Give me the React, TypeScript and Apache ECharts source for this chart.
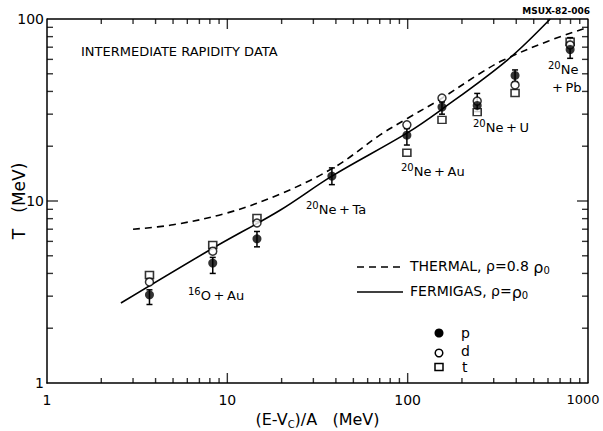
import React, { useEffect, useRef } from "react";
import * as echarts from "echarts";

// ---- data ----
const energies = [3.7, 8.3, 14.6, 38, 99, 155, 243, 394, 796];
const protonT = [3.05, 4.56, 6.2, 13.7, 23.0, 32.8, 33.5, 49, 68];
const protonLow = [2.7, 4.0, 5.6, 12.3, 20.3, 30, 31, 45, 60.8];
const protonHigh = [3.25, 4.9, 6.8, 15.2, 25, 35, 39, 52.5, 79];
const deuteronT = [3.59, 5.3, 7.57, null, 26.2, 36.8, 35.4, 43.4, 72];
const tritonT = [3.92, 5.73, 8.07, null, 18.4, 27.9, 30.8, 39.2, 75];

const thermalE = [3, 5, 10, 20, 40, 70, 100, 150, 250, 340, 600, 1000];
const thermalT = [7.0, 7.4, 8.6, 11.0, 15.5, 23, 28.5, 36, 50, 59.5, 75.5, 90];
const fermiE = [2.57, 8.3, 19.6, 38, 99, 152, 357, 617];
const fermiT = [2.75, 5.5, 8.9, 13.7, 23.6, 31.5, 59.5, 100];

const xRange = [1, 1000];
const yRange = [1, 100];
const xMajorTicks = [10, 100];
const yMajorTicks = [10];
const xMinorTicks = [2, 3, 4, 5, 6, 7, 8, 9, 20, 30, 40, 50, 60, 70, 80, 90, 200, 300, 400, 500, 600, 700, 800, 900];
const yMinorTicks = [2, 3, 4, 5, 6, 7, 8, 9, 20, 30, 40, 50, 60, 70, 80, 90];

const FONT = "DejaVu Sans";
const INK = "#000";

const GRID = { left: 47, right: 15, top: 19, bottom: 48 };
const W = 603;
const H = 431;

export default function App() {
  const ref = useRef<HTMLDivElement>(null);

  useEffect(() => {
    const chart = echarts.init(ref.current!, null, { renderer: "svg" });

    const supRich = {
      s: { fontSize: 10, fontFamily: FONT, fill: INK, lineHeight: 10, padding: [0, 0, 8, 0], verticalAlign: "top" },
      n: { fontSize: 13, fontFamily: FONT, fill: INK, lineHeight: 16, verticalAlign: "bottom" },
    };
    const subRich = {
      n: { fontSize: 14, fontFamily: FONT, fill: INK, lineHeight: 16, verticalAlign: "top" },
      r: { fontSize: 16, fontFamily: FONT, fill: INK, lineHeight: 16, verticalAlign: "top" },
      b: { fontSize: 10, fontFamily: FONT, fill: INK, lineHeight: 10, padding: [8, 0, 0, 0], verticalAlign: "bottom" },
    };

    const annot = (text: string, x: number, y: number) => ({
      type: "text",
      x,
      y,
      style: { text, rich: supRich, verticalAlign: "middle", align: "left" },
    });

    const fmt = (v: number) => {
      const r = Math.round(v);
      return r === 1000 ? "{e|1000}" : String(r);
    };

    const TW = 1.4; // tick stroke width
    const xTick = (v: number, len: number) => [
      { value: [v, yRange[0]], symbolSize: [TW, len], symbolOffset: [0, -len / 2] },
      { value: [v, yRange[1]], symbolSize: [TW, len], symbolOffset: [0, len / 2] },
    ];
    const yTick = (v: number, len: number) => [
      { value: [xRange[0], v], symbolSize: [len, TW], symbolOffset: [len / 2, 0] },
      { value: [xRange[1], v], symbolSize: [len, TW], symbolOffset: [-len / 2, 0] },
    ];
    const tickData = [
      ...xMajorTicks.flatMap((v) => xTick(v, 10)),
      ...xMinorTicks.flatMap((v) => xTick(v, 5)),
      ...yMajorTicks.flatMap((v) => yTick(v, 11)),
      ...yMinorTicks.flatMap((v) => yTick(v, 6)),
    ];

    const option: any = {
      animation: false,
      backgroundColor: "#fff",
      grid: { ...GRID, containLabel: false, outerBoundsMode: "none" },
      xAxis: {
        type: "log",
        logBase: 10,
        min: xRange[0],
        max: xRange[1],
        position: "bottom",
        axisLine: { show: true, lineStyle: { color: INK, width: 1.5 } },
        axisTick: { show: false },
        splitLine: { show: false },
        axisLabel: {
          color: INK,
          fontFamily: FONT,
          fontSize: 14,
          margin: 10,
          formatter: fmt,
          showMinLabel: true,
          showMaxLabel: true,
          rich: { e: { fontSize: 13, fontFamily: FONT, color: INK, padding: [0, 10, 0, 0] } },
        },
        name: "{n|(E-V}{c|C}{n|)/A   (MeV)}",
        nameLocation: "middle",
        nameGap: 28,
        nameMoveOverlap: false,
        nameTextStyle: {
          rich: {
            n: { fontSize: 16, fontFamily: FONT, color: INK, lineHeight: 18, verticalAlign: "top" },
            c: { fontSize: 10, fontFamily: FONT, color: INK, lineHeight: 10, padding: [9, 0, 0, 0], verticalAlign: "bottom" },
          },
        },
      },
      yAxis: {
        type: "log",
        logBase: 10,
        min: yRange[0],
        max: yRange[1],
        position: "left",
        axisLine: { show: true, lineStyle: { color: INK, width: 1.5 } },
        axisTick: { show: false },
        splitLine: { show: false },
        axisLabel: { color: INK, fontFamily: FONT, fontSize: 14, margin: 3, formatter: fmt, showMinLabel: true, showMaxLabel: true },
        name: "T   (MeV)",
        nameLocation: "middle",
        nameGap: 20,
        nameMoveOverlap: false,
        nameTextStyle: { color: INK, fontFamily: FONT, fontSize: 17 },
      },
      series: [
        {
          // top and right edges of the frame
          type: "line",
          name: "frame",
          data: [
            [xRange[0], yRange[1]],
            [xRange[1], yRange[1]],
            [xRange[1], yRange[0]],
          ],
          showSymbol: false,
          clip: false,
          silent: true,
          lineStyle: { color: INK, width: 1.5 },
          z: 7,
        },
        {
          type: "scatter",
          name: "ticks",
          symbol: "rect",
          clip: false,
          silent: true,
          data: tickData,
          itemStyle: { color: INK },
          z: 7,
        },
        {
          type: "line",
          name: "THERMAL",
          data: thermalE.map((e, i) => [e, thermalT[i]]),
          showSymbol: false,
          smooth: 0.35,
          lineStyle: { color: INK, width: 1.6, type: [7, 5] },
          z: 2,
        },
        {
          type: "line",
          name: "FERMIGAS",
          data: fermiE.map((e, i) => [e, fermiT[i]]),
          showSymbol: false,
          smooth: 0.35,
          lineStyle: { color: INK, width: 1.6 },
          z: 2,
        },
        {
          type: "custom",
          name: "errors",
          silent: true,
          data: energies.map((e, i) => [e, protonLow[i], protonHigh[i]]),
          renderItem: (_p: any, api: any) => {
            const x = api.value(0);
            const lo = api.coord([x, api.value(1)]);
            const hi = api.coord([x, api.value(2)]);
            const st = { stroke: INK, lineWidth: 1.5 };
            const w = 3;
            return {
              type: "group",
              children: [
                { type: "line", shape: { x1: lo[0], y1: lo[1], x2: hi[0], y2: hi[1] }, style: st },
                { type: "line", shape: { x1: lo[0] - w, y1: lo[1], x2: lo[0] + w, y2: lo[1] }, style: st },
                { type: "line", shape: { x1: hi[0] - w, y1: hi[1], x2: hi[0] + w, y2: hi[1] }, style: st },
              ],
            };
          },
          z: 3,
        },
        {
          type: "scatter",
          name: "t",
          symbol: "rect",
          symbolSize: [8, 7],
          data: energies.map((e, i) => [e, tritonT[i]]).filter((d) => d[1] != null),
          itemStyle: { color: "#fff", borderColor: INK, borderWidth: 1.5 },
          z: 4,
        },
        {
          type: "scatter",
          name: "d",
          symbol: "circle",
          symbolSize: 8,
          data: energies.map((e, i) => [e, deuteronT[i]]).filter((d) => d[1] != null),
          itemStyle: { color: "#fff", borderColor: INK, borderWidth: 1.5 },
          z: 5,
        },
        {
          type: "scatter",
          name: "p",
          symbol: "circle",
          symbolSize: 9,
          data: energies.map((e, i) => [e, protonT[i]]),
          itemStyle: { color: INK },
          z: 6,
        },
      ],
      graphic: [
        {
          type: "text",
          x: 81,
          y: 51,
          style: { text: "INTERMEDIATE RAPIDITY DATA", fontFamily: FONT, fontSize: 13, fill: INK, verticalAlign: "middle" },
        },
        {
          type: "text",
          x: 590,
          y: 11,
          style: { text: "MSUX-82-006", fontFamily: FONT, fontSize: 9, fontWeight: "bold", fill: INK, align: "right", verticalAlign: "middle" },
        },
        annot("{s|16}{n|O\u2009+\u2009Au}", 188, 294),
        annot("{s|20}{n|Ne\u2009+\u2009Ta}", 306, 208),
        annot("{s|20}{n|Ne\u2009+\u2009Au}", 401, 170),
        annot("{s|20}{n|Ne\u2009+\u2009U}", 473, 126),
        annot("{s|20}{n|Ne}", 548, 68),
        {
          type: "text",
          x: 552,
          y: 87,
          style: { text: "+\u2009Pb", fontFamily: FONT, fontSize: 13, fill: INK, verticalAlign: "middle" },
        },
        // legend
        { type: "line", shape: { x1: 357, y1: 267, x2: 403, y2: 267 }, style: { stroke: INK, lineWidth: 1.6, lineDash: [7, 5] } },
        { type: "line", shape: { x1: 357, y1: 292, x2: 403, y2: 292 }, style: { stroke: INK, lineWidth: 1.6 } },
        {
          type: "text",
          x: 410,
          y: 267,
          style: { text: "{n|THERMAL, ρ=0.8 }{r|ρ}{b|0}", rich: subRich, verticalAlign: "middle" },
        },
        {
          type: "text",
          x: 410,
          y: 292,
          style: { text: "{n|FERMIGAS, ρ=}{r|ρ}{b|0}", rich: subRich, verticalAlign: "middle" },
        },
        { type: "circle", shape: { cx: 439, cy: 333, r: 4.5 }, style: { fill: INK } },
        { type: "circle", shape: { cx: 439, cy: 353, r: 3.8 }, style: { fill: "#fff", stroke: INK, lineWidth: 1.5 } },
        { type: "rect", shape: { x: 435, y: 363.5, width: 8, height: 7 }, style: { fill: "#fff", stroke: INK, lineWidth: 1.5 } },
        { type: "text", x: 461, y: 333, style: { text: "p", fontFamily: FONT, fontSize: 14, fill: INK, verticalAlign: "middle" } },
        { type: "text", x: 461, y: 351, style: { text: "d", fontFamily: FONT, fontSize: 14, fill: INK, verticalAlign: "middle" } },
        { type: "text", x: 462, y: 367, style: { text: "t", fontFamily: FONT, fontSize: 14, fill: INK, verticalAlign: "middle" } },
      ],
    };

    chart.setOption(option);
    return () => chart.dispose();
  }, []);

  return <div ref={ref} style={{ position: "fixed", left: 0, top: 0, width: W, height: H }} />;
}
